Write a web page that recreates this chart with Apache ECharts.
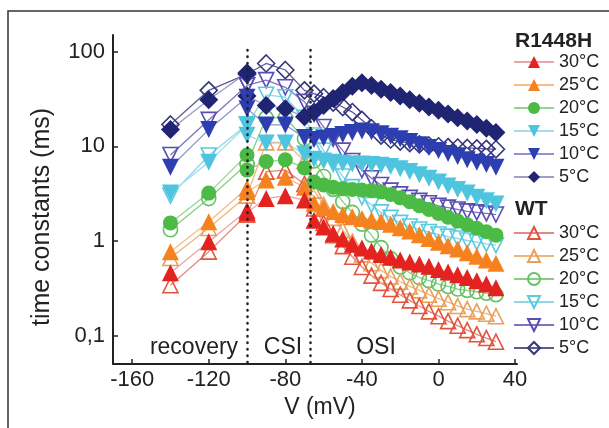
<!DOCTYPE html>
<html><head><meta charset="utf-8">
<script src="https://cdn.jsdelivr.net/npm/echarts@6/dist/echarts.min.js"></script>
<style>html,body{margin:0;padding:0;background:#fff}#c{width:609px;height:428px}</style>
</head><body><div id="c"></div>
<script>
// ---- data ----
const voltages = [-140,-120,-100,-100,-90,-80,-70,-65,-60,-55,-50,-45,-40,-35,-30,-25,-20,-15,-10,-5,0,5,10,15,20,25,30];
const xTicks = [-160,-120,-80,-40,0,40];
const yTicks = [0.1,1,10,100];
const boundaries = [-100,-67];
const temps = ['30°C','25°C','20°C','15°C','10°C','5°C'];

const R30 = [0.46,0.98,2.1,2.0,2.8,3.0,2.7,1.65,1.4,1.2,1.05,0.92,0.84,0.78,0.72,0.67,0.63,0.6,0.57,0.54,0.5,0.47,0.44,0.41,0.38,0.35,0.32];
const R25 = [0.77,1.59,3.6,3.3,4.4,4.7,3.7,2.5,2.25,2.05,1.9,1.8,1.72,1.66,1.6,1.5,1.38,1.27,1.16,1.06,0.97,0.89,0.82,0.75,0.69,0.63,0.58];
const R20 = [1.55,3.2,8.1,5.6,6.9,7.2,5.9,4.2,3.9,3.7,3.55,3.5,3.45,3.4,3.3,3.1,2.85,2.6,2.35,2.15,1.95,1.78,1.62,1.48,1.36,1.25,1.15];
const R15 = [3.2,6.8,16.8,13.1,10.8,10.8,8.3,7.3,7.0,6.8,6.6,6.5,6.5,6.4,6.3,6.1,5.8,5.4,5.0,4.6,4.2,3.8,3.5,3.2,2.9,2.65,2.45];
const R10 = [6.0,15,33,25,16.8,16.8,12.4,11.8,12.2,12.7,13.3,14,14.5,14.2,13.6,12.8,12,11.2,10.4,9.7,9.0,8.4,7.8,7.2,6.8,6.4,6.0];
const R5  = [15,31,60,34,27,25,20.5,23,27,32,37,43,47,44,40,37,34,31,28.5,26,24,22,20,18.5,17,15.5,14];

const WT30 = [0.34,0.77,1.9,1.9,5.4,5.6,4.0,2.2,1.55,1.15,0.88,0.68,0.53,0.43,0.36,0.31,0.27,0.235,0.205,0.18,0.16,0.142,0.127,0.114,0.103,0.094,0.086];
const WT25 = [0.66,1.37,3.0,3.0,11,11,7,3.4,2.4,1.75,1.3,0.98,0.72,0.58,0.49,0.42,0.37,0.33,0.3,0.27,0.245,0.225,0.205,0.19,0.18,0.17,0.16];
const WT20 = [1.31,2.8,6.5,6.5,20,20,12,7,4.8,3.5,2.6,2.0,1.5,1.15,0.85,0.65,0.53,0.46,0.41,0.38,0.35,0.33,0.31,0.3,0.29,0.28,0.27];
const WT15 = [3.0,8.0,17,17,35,33,20,13,9,6.5,4.8,3.7,2.9,2.4,2.0,1.75,1.55,1.42,1.32,1.24,1.17,1.11,1.06,1.01,0.97,0.93,0.9];
const WT10 = [8.1,19,44,44,50,42,29.5,22,16,12,9,7,5.6,4.6,3.9,3.4,3.1,2.85,2.65,2.5,2.35,2.25,2.15,2.05,2.0,1.95,1.9];
const WT5  = [17,39,58,58,75,64,39,36,33,29,26,23,19,15.5,13,11.8,11.2,10.8,10.5,10.2,10,9.8,9.7,9.6,9.5,9.4,9.3];

// ---- styles ----
const FONT = "'Liberation Sans', Arial, Helvetica, sans-serif";
const rStyle = [
  {c:'#e42220', l:'#eda3a8', s:'triangle', r:0, z:17},
  {c:'#f5821f', l:'#f6bd85', s:'triangle', r:0, z:17},
  {c:'#4bbb46', l:'#94d68f', s:'circle', r:0, z:15},
  {c:'#4ec4df', l:'#a6dded', s:'triangle', r:180, z:17},
  {c:'#2d3fb0', l:'#8f93cf', s:'triangle', r:180, z:17},
  {c:'#1f2473', l:'#a09fc4', s:'diamond', r:0, z:19}
];
const wStyle = [
  {c:'#e3543f', l:'#de8b80', s:'triangle', r:0, z:15},
  {c:'#e9a05c', l:'#ecb77d', s:'triangle', r:0, z:15},
  {c:'#66c263', l:'#86cf82', s:'circle', r:0, z:14},
  {c:'#5ccadd', l:'#8fd6e6', s:'triangle', r:180, z:15},
  {c:'#5a4eb2', l:'#7d74c3', s:'triangle', r:180, z:15},
  {c:'#36357e', l:'#5d5c90', s:'diamond', r:0, z:17}
];
const rVals = [R30,R25,R20,R15,R10,R5];
const wVals = [WT30,WT25,WT20,WT15,WT10,WT5];

function mk(name, vals, st, hollow) {
  return {
    name: name, type: 'line',
    data: voltages.map((v, i) => [v, vals[i]]),
    symbol: st.s, symbolSize: st.z, symbolRotate: st.r,
    showAllSymbol: true, clip: false,
    itemStyle: hollow ? {color: 'rgba(255,255,255,0)', borderColor: st.c, borderWidth: 1.6}
                      : {color: st.c, borderWidth: 0},
    lineStyle: {color: st.l, width: 1.3},
    emphasis: {disabled: true}
  };
}

const rNames = temps.map(t => 'R1448H ' + t);
const wNames = temps.map(t => 'WT ' + t);
const series = [];
for (let i = 5; i >= 0; i--) series.push(mk(wNames[i], wVals[i], wStyle[i], true));
for (let i = 5; i >= 0; i--) series.push(mk(rNames[i], rVals[i], rStyle[i], false));
series[0].markLine = {
  symbol: 'none', silent: true, label: {show: false},
  lineStyle: {color: '#222', type: [0.5, 6], width: 2.5, cap: 'round'},
  data: boundaries.map(b => [{coord: [b, 104]}, {coord: [b, 0.05]}])
};

const legendBase = {
  orient: 'vertical', left: 508, itemWidth: 40, itemHeight: 15, itemGap: 5,
  selectedMode: false,
  textStyle: {fontSize: 18, color: '#222', fontFamily: FONT},
  formatter: n => n.split(' ')[1]
};

const txt = (t, x, y, size, extra) => Object.assign({
  type: 'text', x: x, y: y,
  style: Object.assign({text: t, fill: '#222', font: size + 'px ' + FONT, align: 'center', verticalAlign: 'middle'}, extra || {})
});

const chart = echarts.init(document.getElementById('c'), null, {renderer: 'canvas'});
chart.setOption({
  animation: false,
  backgroundColor: '#fff',
  grid: {left: 113, right: 92, top: 35, bottom: 64},
  xAxis: {
    type: 'value', min: -170, max: 41,
    axisLine: {onZero: false, lineStyle: {color: '#222', width: 2}},
    axisTick: {inside: true, length: 5, customValues: xTicks, lineStyle: {color: '#222', width: 1.5}},
    axisLabel: {customValues: xTicks, fontSize: 22, color: '#222', fontFamily: FONT, margin: 5},
    splitLine: {show: false}
  },
  yAxis: {
    type: 'log', logBase: 10, min: 0.05, max: 150,
    axisLine: {show: true, onZero: false, lineStyle: {color: '#222', width: 2}},
    axisTick: {show: true, inside: true, length: 5, customValues: yTicks, lineStyle: {color: '#222', width: 1.5}},
    axisLabel: {customValues: yTicks, fontSize: 22, color: '#222', fontFamily: FONT, margin: 8,
      formatter: v => (Math.abs(v - 0.1) < 1e-9 ? '0,1' : String(Math.round(v)))},
    splitLine: {show: false}, minorSplitLine: {show: false}
  },
  legend: [
    Object.assign({}, legendBase, {top: 48, data: rNames}),
    Object.assign({}, legendBase, {top: 219, data: wNames})
  ],
  graphic: [
    {type: 'polyline', shape: {points: [[8, 428], [8, 11], [609, 11]]}, style: {stroke: '#333', lineWidth: 1.5, fill: null}, silent: true},
    txt('recovery', 194, 348, 23),
    txt('CSI', 283, 348, 23),
    txt('OSI', 376, 348, 23),
    txt('V (mV)', 320, 408, 23),
    Object.assign(txt('time constants (ms)', 42, 217, 25), {rotation: Math.PI / 2}),
    txt('R1448H', 515, 41, 21, {align: 'left', font: 'bold 21px ' + FONT}),
    txt('WT', 515, 209, 21, {align: 'left', font: 'bold 21px ' + FONT})
  ],
  series: series
});
</script></body></html>
